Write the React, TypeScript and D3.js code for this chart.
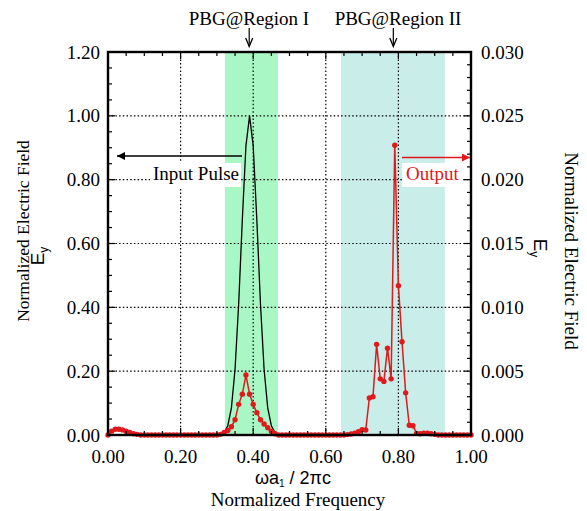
import React from "react";
import * as d3 from "d3";

const outputFreq: number[] = d3.range(0, 101).map((i) => i / 100);
const outputField: number[] = [
  0.0, 0.0003, 0.00045, 0.00045, 0.0004, 0.0003, 0.0002, 0.0001, 0.00005, 0, // 0.00-0.09
  0, 0, 0, 0, 0, 0, 0, 0, 0, 0, // 0.10-0.19
  0, 0, 0, 0, 0, 0, 0, 0, 0, 0, // 0.20-0.29
  0, 0.00005, 0.0002, 0.00035, 0.00065, 0.0012, 0.0024, 0.0032, 0.0047, 0.0032, // 0.30-0.39
  0.0024, 0.00175, 0.0012, 0.00086, 0.00057, 0.0003, 0.0001, 0, 0, 0, // 0.40-0.49
  0, 0, 0, 0, 0, 0, 0, 0, 0, 0, // 0.50-0.59
  0, 0, 0, 0, 0, 0, 0.00003, 0.00008, 0.00015, 0.00026, // 0.60-0.69
  0.00042, 0.00039, 0.0029, 0.003, 0.0071, 0.0044, 0.0042, 0.0068, 0.0044, 0.0227, // 0.70-0.79
  0.0117, 0.0073, 0.0033, 0.00076, 0.00073, 0.00013, 0.0001, 0.00015, 0.00015, 0.0001, // 0.80-0.89
  0.00005, 0, 0, 0, 0, 0, 0, 0, 0, 0, // 0.90-0.99
  0, // 1.00
];

const inputFreq: number[] = [0.0, 0.29, 0.3, 0.31, 0.32, 0.33, 0.34, 0.35, 0.36, 0.37, 0.38, 0.39, 0.4, 0.41, 0.42, 0.43, 0.44, 0.45, 0.46, 0.47, 0.48, 1.0];
const inputField: number[] = [0, 0, 0, 0.002, 0.008, 0.029, 0.085, 0.206, 0.411, 0.674, 0.906, 1.0, 0.906, 0.674, 0.411, 0.206, 0.085, 0.029, 0.008, 0.002, 0, 0];

const xTicks: number[] = [0, 0.2, 0.4, 0.6, 0.8, 1.0];
const yLeftTicks: number[] = [0, 0.2, 0.4, 0.6, 0.8, 1.0, 1.2];
const yRightTicks: number[] = [0, 0.005, 0.01, 0.015, 0.02, 0.025, 0.03];
const bandI: [number, number] = [0.322, 0.468];
const bandII: [number, number] = [0.642, 0.928];
const regionIAt = 0.389;
const regionIIAt = 0.786;

const SERIF = "'Liberation Serif', 'Times New Roman', serif";
const SANS = "'Liberation Sans', Arial, sans-serif";
const RED = "#e0191c";

export default function App() {
  const L = 108, R = 471, T = 52, B = 435;
  const x = d3.scaleLinear().domain([0, 1]).range([L, R]);
  const yL = d3.scaleLinear().domain([0, 1.2]).range([B, T]);
  const yR = d3.scaleLinear().domain([0, 0.03]).range([B, T]);

  const blackLine = d3.line<number>().x((_, i) => x(inputFreq[i])).y((d) => yL(d))(inputField) || "";
  const redLine = d3.line<number>().x((_, i) => x(outputFreq[i])).y((d) => yR(d))(outputField) || "";

  const xMinor = d3.range(0, 1.0001, 0.05);
  const yLMinor = d3.range(0, 1.2001, 0.05);
  const yRMinor = d3.range(0, 0.03001, 0.001);

  const isMajor = (v: number, step: number) => Math.abs(v / step - Math.round(v / step)) < 1e-6;

  return (
    <svg width={587} height={511} style={{ position: "absolute", left: 0, top: 0, background: "#fff" }}>
      <defs>
        <marker id="ahBlack" viewBox="0 0 10 10" refX="10" refY="5" markerWidth="11" markerHeight="8" markerUnits="userSpaceOnUse" orient="auto">
          <path d="M0,0 L10,5 L0,10 z" fill="#000" />
        </marker>
        <marker id="ahRed" viewBox="0 0 10 10" refX="10" refY="5" markerWidth="11" markerHeight="8" markerUnits="userSpaceOnUse" orient="auto">
          <path d="M0,0 L10,5 L0,10 z" fill={RED} />
        </marker>
      </defs>
      <rect x={0} y={0} width={587} height={511} fill="#fff" />
      {/* bands */}
      <rect x={x(bandI[0])} y={T} width={x(bandI[1]) - x(bandI[0])} height={B - T} fill="#aaf7c6" />
      <rect x={x(bandII[0])} y={T} width={x(bandII[1]) - x(bandII[0])} height={B - T} fill="#c9ede8" />
      {/* grid */}
      {xTicks.slice(1, -1).map((t) => (
        <line key={"gx" + t} x1={x(t)} x2={x(t)} y1={T} y2={B} stroke="#000" strokeWidth={1.2} strokeDasharray="1.5 2.2" />
      ))}
      {yLeftTicks.slice(1, -1).map((t) => (
        <line key={"gy" + t} x1={L} x2={R} y1={yL(t)} y2={yL(t)} stroke="#000" strokeWidth={1.2} strokeDasharray="1.5 2.2" />
      ))}
      {/* input pulse */}
      <path d={blackLine} fill="none" stroke="#000" strokeWidth={1.3} />
      {/* output */}
      <path d={redLine} fill="none" stroke={RED} strokeWidth={1.5} />
      {outputField.map((d, i) => (
        <circle key={"p" + i} cx={x(outputFreq[i])} cy={yR(d)} r={2.7} fill={RED} />
      ))}
      {/* ticks */}
      {xMinor.map((t) => {
        const len = isMajor(t, 0.2) ? 7 : 4;
        return (
          <g key={"tx" + t}>
            <line x1={x(t)} x2={x(t)} y1={B} y2={B - len} stroke="#000" strokeWidth={1.2} />
            <line x1={x(t)} x2={x(t)} y1={T} y2={T + len} stroke="#000" strokeWidth={1.2} />
          </g>
        );
      })}
      {yLMinor.map((t) => (
        <line key={"tyl" + t} x1={L} x2={L + (isMajor(t, 0.2) ? 7 : 4)} y1={yL(t)} y2={yL(t)} stroke="#000" strokeWidth={1.2} />
      ))}
      {yRMinor.map((t) => (
        <line key={"tyr" + t} x1={R} x2={R - (isMajor(t, 0.005) ? 7 : 4)} y1={yR(t)} y2={yR(t)} stroke="#000" strokeWidth={1.2} />
      ))}
      {/* frame */}
      <rect x={L} y={T} width={R - L} height={B - T} fill="none" stroke="#000" strokeWidth={2.4} />
      {/* tick labels */}
      {xTicks.map((t) => (
        <text key={"lx" + t} x={x(t)} y={463} textAnchor="middle" fontFamily={SERIF} fontSize={19}>
          {t.toFixed(2)}
        </text>
      ))}
      {yLeftTicks.map((t) => (
        <text key={"lyl" + t} x={100} y={yL(t) + 6.5} textAnchor="end" fontFamily={SERIF} fontSize={19}>
          {t.toFixed(2)}
        </text>
      ))}
      {yRightTicks.map((t) => (
        <text key={"lyr" + t} x={481} y={yR(t) + 6.5} textAnchor="start" fontFamily={SERIF} fontSize={19}>
          {t.toFixed(3)}
        </text>
      ))}
      {/* axis titles */}
      <text x={293} y={484} textAnchor="middle" fontFamily={SANS} fontSize={18}>
        ωa<tspan fontSize={10} dy={3}>1</tspan>
        <tspan dy={-3}> / 2πc</tspan>
      </text>
      <text x={298} y={506} textAnchor="middle" fontFamily={SERIF} fontSize={19}>
        Normalized Frequency
      </text>
      <text transform="translate(29,231) rotate(-90)" textAnchor="middle" fontFamily={SERIF} fontSize={17.5}>
        Normalized Electric Field
      </text>
      <text transform="translate(44,256) rotate(-90)" textAnchor="middle" fontFamily={SANS} fontSize={19}>
        E<tspan fontSize={12} dy={4}>y</tspan>
      </text>
      <text transform="translate(565,251) rotate(90)" textAnchor="middle" fontFamily={SERIF} fontSize={19}>
        Normalized Electric Field
      </text>
      <text transform="translate(534,248) rotate(90)" textAnchor="middle" fontFamily={SANS} fontSize={19}>
        E<tspan fontSize={12} dy={4}>y</tspan>
      </text>
      {/* region annotations */}
      <text x={249} y={25} textAnchor="middle" fontFamily={SERIF} fontSize={19}>PBG@Region I</text>
      <text x={398} y={25} textAnchor="middle" fontFamily={SERIF} fontSize={19}>PBG@Region II</text>
      {[regionIAt, regionIIAt].map((r) => (
        <g key={"ra" + r}>
          <line x1={x(r)} x2={x(r)} y1={28} y2={46} stroke="#000" strokeWidth={1.2} />
          <path d={`M${x(r) - 3.5},38 L${x(r)},46.5 L${x(r) + 3.5},38`} fill="none" stroke="#000" strokeWidth={1.3} />
        </g>
      ))}
      {/* Input Pulse label */}
      <line x1={242} x2={117} y1={156} y2={156} stroke="#000" strokeWidth={1.3} markerEnd="url(#ahBlack)" />
      <rect x={150} y={163} width={91} height={24} fill="#fff" />
      <text x={153} y={179.5} fontFamily={SERIF} fontSize={19}>Input Pulse</text>
      {/* Output label */}
      <line x1={402} x2={470} y1={157.5} y2={157.5} stroke={RED} strokeWidth={1.3} markerEnd="url(#ahRed)" />
      <rect x={402} y={163} width={60} height={24} fill="#fff" />
      <text x={406} y={179.5} fontFamily={SERIF} fontSize={19} fill={RED}>Output</text>
    </svg>
  );
}
